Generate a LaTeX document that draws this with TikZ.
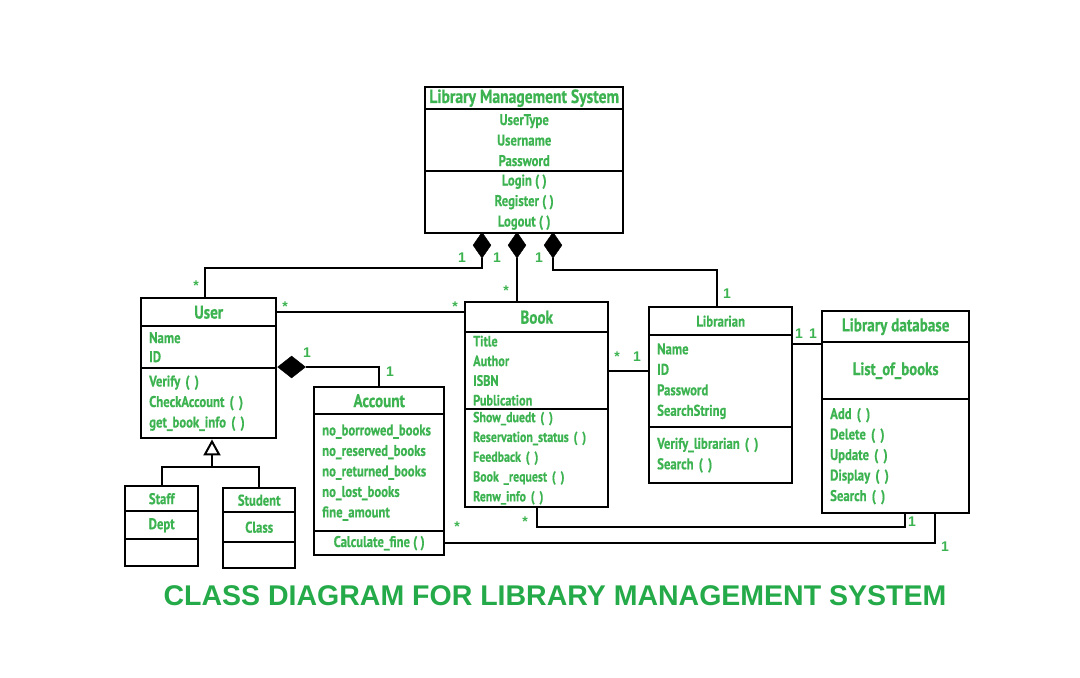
\documentclass[tikz,border=0pt]{standalone}
\usepackage{fontspec}
\setmainfont{Liberation Sans}
\newfontfamily\lbl[FakeStretch=0.82, BoldFeatures={FakeBold=0.6}]{PT Sans}
\usepackage{tikz}
\usetikzlibrary{positioning, shapes.geometric, arrows.meta}
\definecolor{txtgreen}{RGB}{60,179,80}
\definecolor{capgreen}{RGB}{36,170,72}

\begin{document}
\begin{tikzpicture}[
    x=1pt, y=-1pt,
    part/.style={rectangle, draw, line width=2.4pt, anchor=north west, inner sep=0pt, inner xsep=8pt, text=txtgreen, align=center, font=\lbl\bfseries\fontsize{15.5}{20.5}\selectfont},
    head/.style={part, font=\lbl\bfseries\fontsize{18.5}{19}\selectfont},
    diam/.style={diamond, draw, fill=black, inner sep=0pt},
    conn/.style={line width=2.2pt},
    mult/.style={text=txtgreen, inner sep=0pt, font=\bfseries\fontsize{14}{14}\selectfont}
]
    \useasboundingbox (0,0) rectangle (1080,678);

    % Library Management System
    \node[head, minimum width=198pt, minimum height=22pt, inner xsep=0pt, font=\lbl\bfseries\fontsize{19}{19}\selectfont] (lmsT) at (424,86) {Library Management System};
    \node[part, minimum width=198pt, minimum height=62pt] (lmsA) at (424,108) {UserType\\Username\\Password};
    \node[part, minimum width=198pt, minimum height=62pt] (lmsM) at (424,170) {Login ( )\\Register ( )\\Logout ( )};

    % User
    \node[head, minimum width=135pt, minimum height=28pt] (userT) at (140,297) {User};
    \node[part, minimum width=135pt, minimum height=42pt, align=left, text width=119pt, font=\lbl\bfseries\fontsize{15.5}{19}\selectfont] (userA) at (140,325) {Name\\ID};
    \node[part, minimum width=135pt, minimum height=70pt, align=left, text width=119pt] (userM) at (140,367) {Verify ( )\\CheckAccount ( )\\get\_book\_info ( )};

    % Staff, Student
    \node[part, minimum width=73pt, minimum height=25pt] (staffT) at (124,485) {Staff};
    \node[part, minimum width=73pt, minimum height=28pt] (staffA) at (124,510) {Dept};
    \node[part, minimum width=73pt, minimum height=27pt] (staffM) at (124,538) {};
    \node[part, minimum width=72pt, minimum height=24pt] (studT) at (222,487) {Student};
    \node[part, minimum width=72pt, minimum height=30pt] (studA) at (222,511) {Class};
    \node[part, minimum width=72pt, minimum height=26pt] (studM) at (222,541) {};

    % Account
    \node[head, minimum width=130pt, minimum height=27pt] (accT) at (313,386) {Account};
    \node[part, minimum width=130pt, minimum height=117pt, align=left, text width=114pt] (accA) at (313,413) {no\_borrowed\_books\\no\_reserved\_books\\no\_returned\_books\\no\_lost\_books\\fine\_amount};
    \node[part, minimum width=130pt, minimum height=24pt] (accM) at (313,530) {Calculate\_fine ( )};

    % Book
    \node[head, minimum width=143pt, minimum height=30pt] (bookT) at (464,301) {Book};
    \node[part, minimum width=143pt, minimum height=77pt, align=left, text width=127pt, font=\lbl\bfseries\fontsize{15}{19.7}\selectfont] (bookA) at (464,331) {Title\\Author\\ISBN\\Publication};
    \node[part, minimum width=143pt, minimum height=98pt, align=left, text width=127pt, font=\lbl\bfseries\fontsize{14.5}{19.8}\selectfont] (bookM) at (464,408) {Show\_duedt ( )\\Reservation\_status ( )\\Feedback ( )\\Book \_request ( )\\Renw\_info ( )};

    % Librarian
    \node[head, minimum width=143pt, minimum height=28pt, font=\lbl\bfseries\fontsize{15.5}{16}\selectfont] (libT) at (648,306) {Librarian};
    \node[part, minimum width=143pt, minimum height=92pt, align=left, text width=127pt] (libA) at (648,334) {Name\\ID\\Password\\SearchString};
    \node[part, minimum width=143pt, minimum height=56pt, align=left, text width=127pt] (libM) at (648,426) {Verify\_librarian ( )\\Search ( )};

    % Library database
    \node[head, minimum width=147pt, minimum height=31pt, font=\lbl\bfseries\fontsize{18.5}{19}\selectfont] (dbT) at (821,310) {Library database};
    \node[part, minimum width=147pt, minimum height=57pt, font=\lbl\bfseries\fontsize{18}{19}\selectfont] (dbA) at (821,341) {List\_of\_books};
    \node[part, minimum width=147pt, minimum height=114pt, align=left, text width=131pt] (dbM) at (821,398) {Add ( )\\Delete ( )\\Update ( )\\Display ( )\\Search ( )};

    % composition diamonds
    \node[diam, minimum width=18pt, minimum height=26pt, anchor=north] (dm1) at (482,232) {};
    \node[diam, minimum width=18pt, minimum height=26pt, anchor=north] (dm2) at (517,232) {};
    \node[diam, minimum width=18pt, minimum height=26pt, anchor=north] (dm3) at (553,232) {};
    \node[diam, minimum width=28pt, minimum height=22pt, anchor=west] (dm4) at (userM.north east) {};

    \coordinate (u1) at (205,268);
    \coordinate (l1) at (717,270);
    \coordinate (g) at (212,467);
    \coordinate (ld) at (791,344);
    \coordinate (b1) at (905,527);
    \coordinate (a1) at (935,542);

    \draw[conn] (dm1.south) |- (u1) -- (userT.north -| u1);
    \draw[conn] (dm2.south) -- (bookT.north -| dm2.south);
    \draw[conn] (dm3.south) |- (l1) -- (libT.north -| l1);
    \draw[conn] (dm4.east) -| (accT.north);
    \draw[conn] (userT.east) -- (userT.east -| bookT.west);
    \draw[conn] (staffT.north) |- (g) -| (studT.north);
    \draw[conn, -{Triangle[open, length=16pt, width=17pt, line width=2pt]}] (g) -- (userM.south -| g);
    \draw[conn] (bookA.east) -- (bookA.east -| libA.west);
    \draw[conn] (ld) -- (ld -| dbA.west);
    \draw[conn] (bookM.south) |- (b1) -- (b1 |- dbM.south);
    \draw[conn] (accM.east) -| (dbM.south -| a1);

    % multiplicities
    \foreach \mx/\my/\mt [count=\i] in {462/258/1, 196/286/*, 497/258/1, 506/291/*, 539/258/1, 727/294/1,
        285/307/*, 455/307/*, 307/353/1, 390/372/1, 617/357/*, 637/357/1, 799/334/1, 813/334/1,
        525/522/*, 912/522/1, 457/527/*, 945/547/1}
        \node[mult] (m\i) at (\mx,\my) {\mt};

    \node[text=capgreen, font=\bfseries\fontsize{28.5}{28.5}\selectfont] (caption) at (555,596) {CLASS DIAGRAM FOR LIBRARY MANAGEMENT SYSTEM};
\end{tikzpicture}
\end{document}
